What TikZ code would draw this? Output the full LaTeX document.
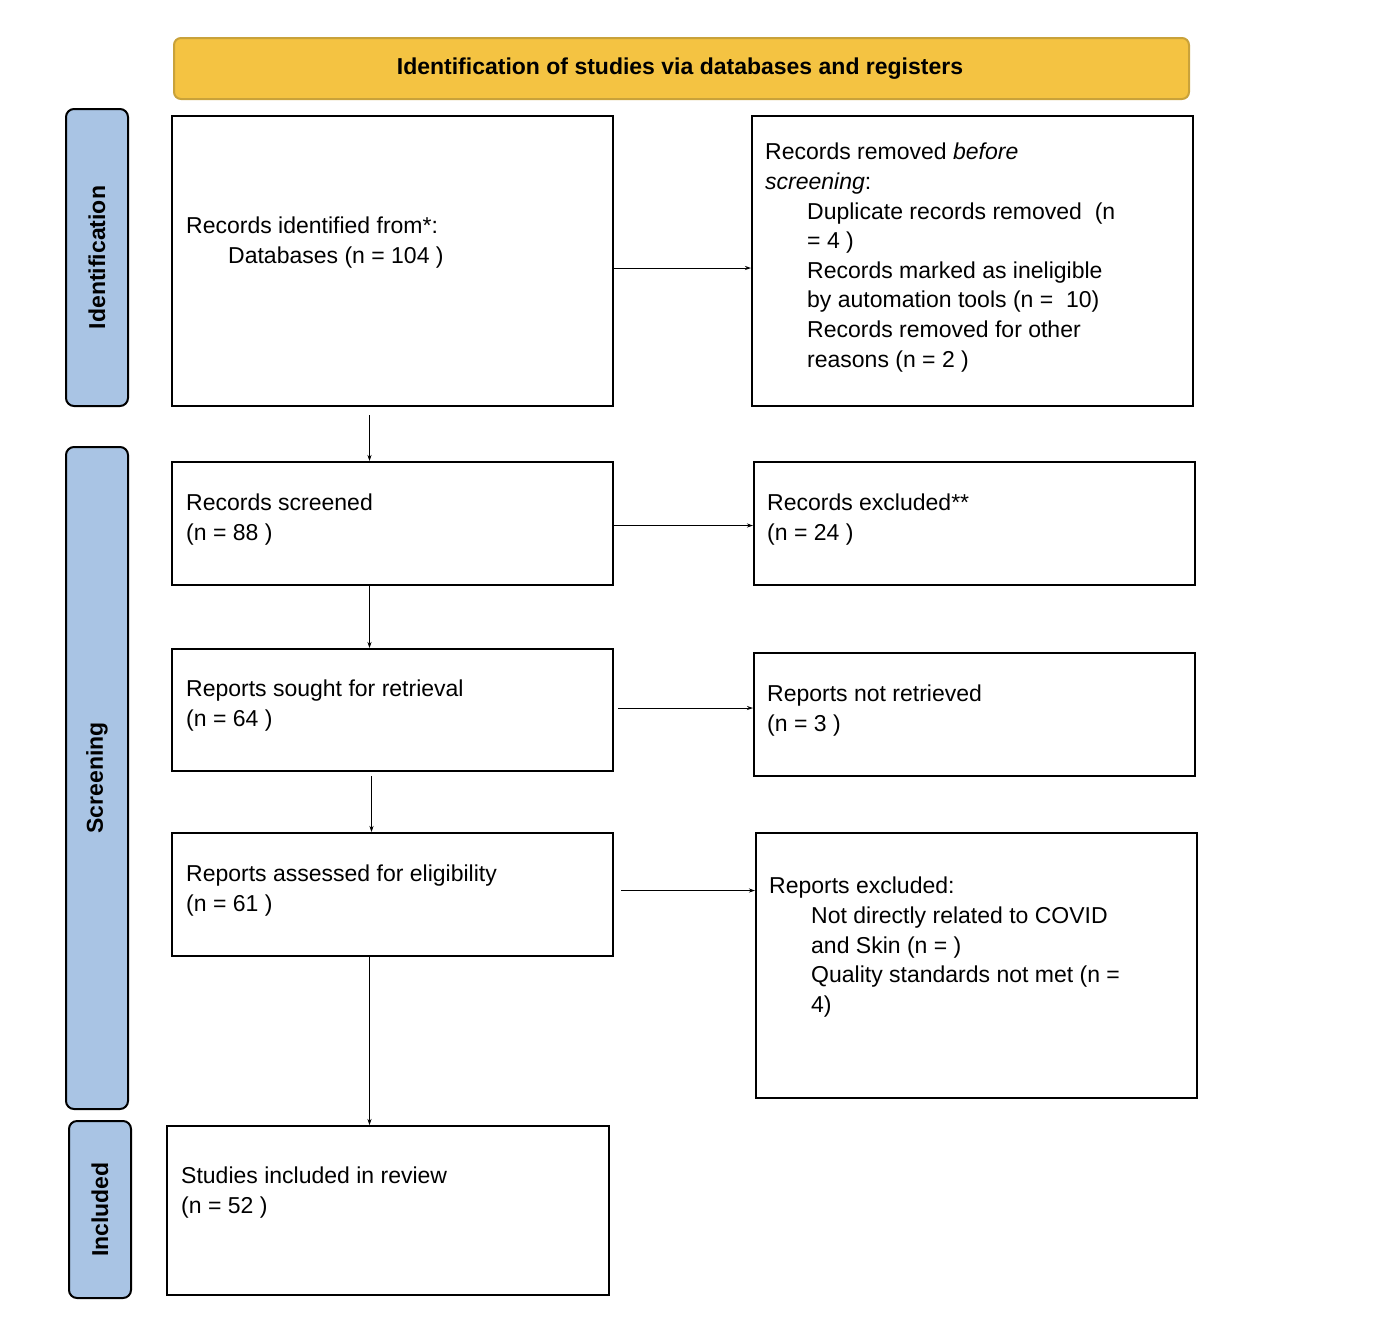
\documentclass[tikz,border=0pt]{standalone}
\usepackage{fontspec}
\setmainfont{Liberation Sans}
\usetikzlibrary{arrows.meta}
\definecolor{hdr}{HTML}{F4C342}
\definecolor{hdrb}{HTML}{C9A23A}
\definecolor{side}{HTML}{A9C4E4}
\begin{document}
\begin{tikzpicture}[x=1pt,y=-1pt,
  box/.style={draw,line width=2pt,inner sep=0,anchor=north west},
  txt/.style={anchor=north west,align=left,inner sep=0,font=\fontsize{23}{29.6}\selectfont},
  sidebox/.style={draw,line width=2pt,fill=side,rounded corners=8pt,inner sep=0,anchor=north west},
  sidetxt/.style={rotate=90,font=\fontsize{23}{28}\selectfont\bfseries},
  arr/.style={-{Stealth[length=6pt,width=4pt]},line width=0.8pt}]
\useasboundingbox (0,0) rectangle (1376,1326);
\node[draw=hdrb,line width=2pt,fill=hdr,rounded corners=7pt,minimum width=1015pt,minimum height=61pt,anchor=north west,inner sep=0] (hd) at (173,37) {};
\node[font=\fontsize{23}{28}\selectfont\bfseries] (hdt) at (680,69) {Identification of studies via databases and registers};
\node[sidebox,minimum width=62pt,minimum height=297pt] (s1) at (65,108) {};
\node[sidetxt] (s1t) at (s1.center) {Identification};
\node[sidebox,minimum width=62pt,minimum height=662pt] (s2) at (65,446) {};
\node[sidetxt] (s2t) at (s2.center) {Screening};
\node[sidebox,minimum width=62pt,minimum height=177pt] (s3) at (68,1120) {};
\node[sidetxt] (s3t) at (s3.center) {Included};
\node[box,minimum width=441pt,minimum height=290pt] (b1) at (171,115) {};
\node[box,minimum width=441pt,minimum height=290pt] (b2) at (751,115) {};
\node[box,minimum width=441pt,minimum height=123pt] (b3) at (171,461) {};
\node[box,minimum width=441pt,minimum height=123pt] (b4) at (753,461) {};
\node[box,minimum width=441pt,minimum height=122pt] (b5) at (171,648) {};
\node[box,minimum width=441pt,minimum height=123pt] (b6) at (753,652) {};
\node[box,minimum width=441pt,minimum height=123pt] (b7) at (171,832) {};
\node[box,minimum width=441pt,minimum height=265pt] (b8) at (755,832) {};
\node[box,minimum width=442pt,minimum height=169pt] (b9) at (166,1125) {};
\node[txt] (t1) at (186,217) {Records identified from*:\\\hspace*{42pt}Databases (n = 104 )};
\node[txt] (t2) at (765,143) {Records removed \textit{before}\\\textit{screening}:\\
\hspace*{42pt}Duplicate records removed\ \ (n\\\hspace*{42pt}= 4 )\\
\hspace*{42pt}Records marked as ineligible\\\hspace*{42pt}by automation tools (n =\ \ 10)\\
\hspace*{42pt}Records removed for other\\\hspace*{42pt}reasons (n = 2 )};
\node[txt] (t3) at (186,494) {Records screened\\(n = 88 )};
\node[txt] (t4) at (767,494) {Records excluded**\\(n = 24 )};
\node[txt] (t5) at (186,680) {Reports sought for retrieval\\(n = 64 )};
\node[txt] (t6) at (767,685) {Reports not retrieved\\(n = 3 )};
\node[txt] (t7) at (186,865) {Reports assessed for eligibility\\(n = 61 )};
\node[txt] (t8) at (769,877) {Reports excluded:\\
\hspace*{42pt}Not directly related to COVID\\\hspace*{42pt}and Skin (n = )\\
\hspace*{42pt}Quality standards not met (n =\\\hspace*{42pt}4)};
\node[txt] (t9) at (181,1167) {Studies included in review\\(n = 52 )};
\draw[arr] ([yshift=-7]b1.east) -- ([yshift=-7]b1.east -| b2.west);
\draw[arr] ([yshift=-2]b3.east) -- ([yshift=-2]b3.east -| b4.west);
\draw[arr] ([xshift=4,yshift=2]b5.east) -- ([yshift=2]b5.east -| b6.west);
\draw[arr] ([xshift=7,yshift=4]b7.east) -- ([yshift=4]b7.east -| b8.west);
\draw[arr] ([xshift=-23,yshift=-8]b1.south) -- ([xshift=-23]b1.south |- b3.north);
\draw[arr] ([xshift=-23]b3.south) -- ([xshift=-23]b3.south |- b5.north);
\draw[arr] ([xshift=-21,yshift=-4]b5.south) -- ([xshift=-21]b5.south |- b7.north);
\draw[arr] ([xshift=-23]b7.south) -- ([xshift=-23]b7.south |- b9.north);
\end{tikzpicture}
\end{document}
